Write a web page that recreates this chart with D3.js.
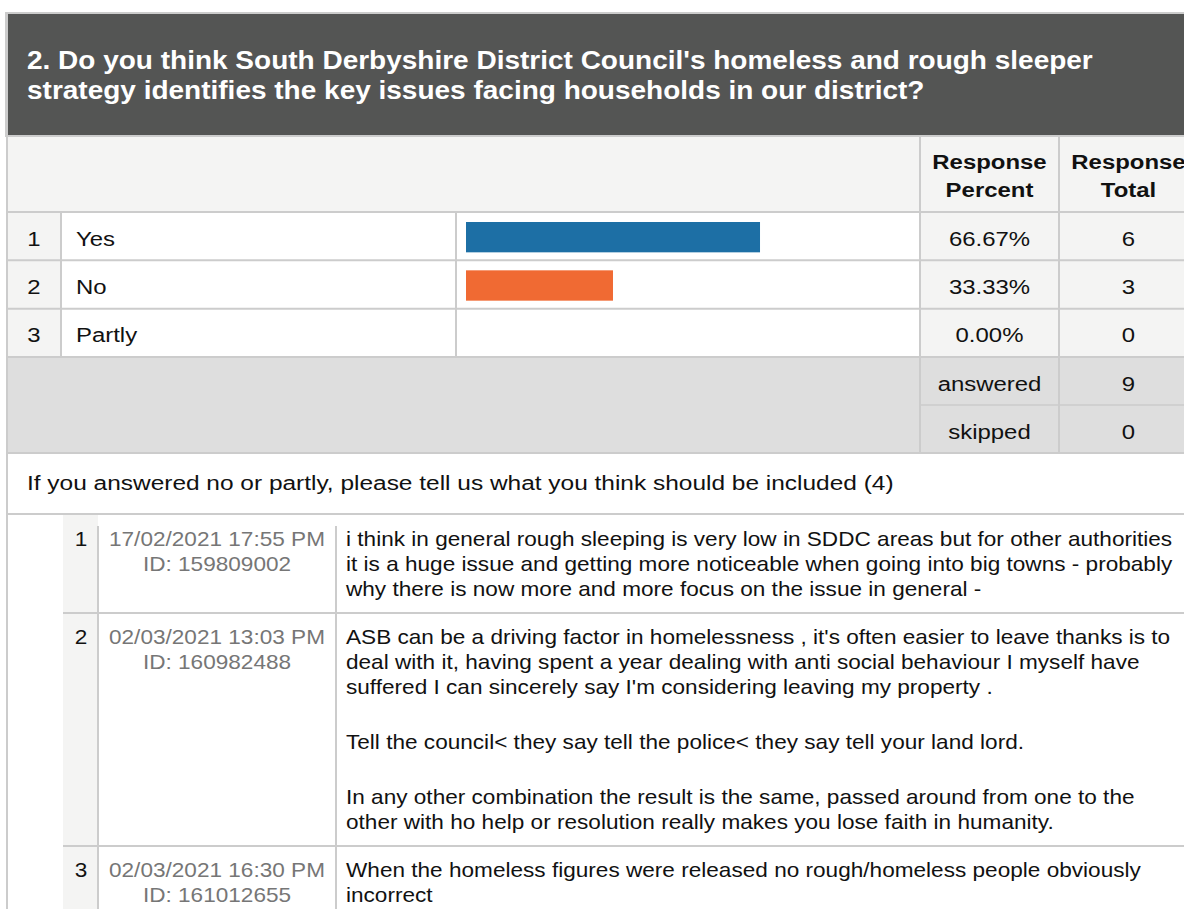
<!DOCTYPE html>
<html>
<head>
<meta charset="utf-8">
<script src="https://cdn.jsdelivr.net/npm/d3@7"></script>
<style>
  body { margin: 0; background: #fff; }
  svg { display: block; font-family: "Liberation Sans", Arial, sans-serif; }
</style>
</head>
<body>
<svg id="chart" width="1184" height="909"></svg>
<script>
// question + choices
var titleLines = [
  "2. Do you think South Derbyshire District Council's homeless and rough sleeper",
  "strategy identifies the key issues facing households in our district?"
];
var categories = ["Yes", "No", "Partly"];
var percents = [66.67, 33.33, 0.00];
var totals = [6, 3, 0];
var summaryLabels = ["answered", "skipped"];
var summaryValues = [9, 0];
var barColors = ["#1d6fa5", "#f06a33", "#9c9c9c"];

// open comments
var commentPrompt = "If you answered no or partly, please tell us what you think should be included (4)";
var commentDates = ["17/02/2021 17:55 PM", "02/03/2021 13:03 PM", "02/03/2021 16:30 PM"];
var commentIds = ["159809002", "160982488", "161012655"];
var commentTexts = [
  [["i think in general rough sleeping is very low in SDDC areas but for other authorities",
    "it is a huge issue and getting more noticeable when going into big towns - probably",
    "why there is now more and more focus on the issue in general -"]],
  [["ASB can be a driving factor in homelessness , it's often easier to leave thanks is to",
    "deal with it, having spent a year dealing with anti social behaviour I myself have",
    "suffered I can sincerely say I'm considering leaving my property ."],
   ["Tell the council< they say tell the police< they say tell your land lord."],
   ["In any other combination the result is the same, passed around from one to the",
    "other with ho help or resolution really makes you lose faith in humanity."]],
  [["When the homeless figures were released no rough/homeless people obviously",
    "incorrect"]]
];

var W = 1184, H = 909;
var line = "#cccccc", light = "#f4f4f3", grey = "#dedede";
var FS = 21, K = 1.14;     // text looks a bit wider than tall in the picture
var FC = 20, KC = 1.13;    // comment rows are a touch smaller
var svg = d3.select('#chart');

// put text at x with a horizontal stretch
function place(sel, x, k){
  k = k || K;
  return sel.attr('x', function(d, i){ return (typeof x === 'function' ? x(d, i) : x) / k })
            .attr('transform', 'scale(' + k + ',1)');
}

// column edges
var cols = [7, 61, 456, 920, 1059, 1198];

// header
svg.append('rect').attr('x', 6).attr('y', 13).attr('width', W).attr('height', 123)
  .attr('fill', '#545554').attr('stroke', line).attr('stroke-width', 2);
place(svg.selectAll('text.title').data(titleLines).enter().append('text')
  .attr('class', 'title')
  .attr('y', function(d, i){ return 69 + i * 30 })
  .attr('fill', '#fff').attr('font-weight', 'bold').attr('font-size', 25)
  .text(function(d){ return d }), 27, 1.12);

// column header row
svg.append('rect').attr('x', 7).attr('y', 136).attr('width', W).attr('height', 76).attr('fill', light);
[["Response", "Percent"], ["Response", "Total"]].forEach(function(lbl, c){
  var cx = (cols[3 + c] + cols[4 + c]) / 2;
  place(svg.selectAll(null).data(lbl).enter().append('text')
    .attr('y', function(d, i){ return 169 + i * 28 })
    .attr('text-anchor', 'middle').attr('font-weight', 'bold').attr('font-size', FS)
    .attr('fill', '#111').text(function(d){ return d }), cx);
});

// choice rows
var y = d3.scaleBand().domain(categories).range([212, 357]);
var x = d3.scaleLinear().domain([0, 100]).range([466, 907]);

var rows = svg.selectAll('g.choice').data(categories).enter().append('g')
  .attr('class', 'choice')
  .attr('transform', function(d){ return 'translate(0,' + y(d) + ')' });

rows.append('rect').attr('x', cols[0]).attr('width', cols[1] - cols[0]).attr('height', y.bandwidth()).attr('fill', light);
rows.append('rect').attr('x', cols[1]).attr('width', cols[3] - cols[1]).attr('height', y.bandwidth()).attr('fill', '#fff');
rows.append('rect').attr('x', cols[3]).attr('width', W - cols[3]).attr('height', y.bandwidth()).attr('fill', light);

rows.append('rect')
  .attr('x', x(0)).attr('y', 10)
  .attr('width', function(d, i){ return x(percents[i]) - x(0) })
  .attr('height', y.bandwidth() - 18)
  .attr('fill', function(d, i){ return barColors[i] });

var mid = y.bandwidth() / 2 + 2;
function cellText(g, cx, anchor, fmt){
  return place(g.append('text').attr('y', mid).attr('dy', '0.36em')
    .attr('text-anchor', anchor).attr('font-size', FS).attr('fill', '#111')
    .text(fmt), cx);
}
cellText(rows, (cols[0] + cols[1]) / 2, 'middle', function(d, i){ return i + 1 });
cellText(rows, 76, 'start', function(d){ return d });
cellText(rows, (cols[3] + cols[4]) / 2, 'middle', function(d, i){ return d3.format('.2f')(percents[i]) + '%' });
cellText(rows, (cols[4] + cols[5]) / 2, 'middle', function(d, i){ return totals[i] });

// summary block
var ys = d3.scaleBand().domain(summaryLabels).range([357, 453]);
svg.append('rect').attr('x', 6).attr('y', 357).attr('width', W).attr('height', 96).attr('fill', grey);
var srows = svg.selectAll('g.sum').data(summaryLabels).enter().append('g')
  .attr('class', 'sum')
  .attr('transform', function(d){ return 'translate(0,' + ys(d) + ')' });
cellText(srows, (cols[3] + cols[4]) / 2, 'middle', function(d){ return d });
cellText(srows, (cols[4] + cols[5]) / 2, 'middle', function(d, i){ return summaryValues[i] });

// grid lines of the choice table
var hl = [136, 212].concat(categories.map(function(d){ return y(d) + y.bandwidth() })).concat([453]);
svg.selectAll('line.h').data(hl).enter().append('line')
  .attr('x1', 6).attr('x2', W).attr('y1', function(d){ return d }).attr('y2', function(d){ return d })
  .attr('stroke', line).attr('stroke-width', 2);
svg.append('line').attr('x1', cols[3]).attr('x2', W).attr('y1', ys('skipped')).attr('y2', ys('skipped'))
  .attr('stroke', '#d0d0d0').attr('stroke-width', 2);
[cols[1], cols[2]].forEach(function(cx){
  svg.append('line').attr('x1', cx).attr('x2', cx).attr('y1', 212).attr('y2', 357).attr('stroke', line).attr('stroke-width', 2);
});
[cols[3], cols[4]].forEach(function(cx){
  svg.append('line').attr('x1', cx).attr('x2', cx).attr('y1', 136).attr('y2', 453).attr('stroke', line).attr('stroke-width', 2);
});

// comments section
place(svg.append('text').attr('y', 490).attr('font-size', FS).attr('fill', '#111').text(commentPrompt), 27, 1.165);
svg.append('line').attr('x1', 6).attr('x2', W).attr('y1', 514).attr('y2', 514).attr('stroke', line).attr('stroke-width', 2);
svg.append('line').attr('x1', 7).attr('x2', 7).attr('y1', 13).attr('y2', H).attr('stroke', line).attr('stroke-width', 2);

var lh = 25, pgap = 30, cursor = 515;
var rowTops = [];
commentTexts.forEach(function(paras){
  var n = d3.sum(paras, function(p){ return p.length });
  rowTops.push(cursor);
  cursor += 31 + (n - 1) * lh + (paras.length - 1) * pgap + 17;
});

svg.append('rect').attr('x', 63).attr('y', 515).attr('width', 35).attr('height', H - 515).attr('fill', light);
svg.append('line').attr('x1', 98).attr('x2', 98).attr('y1', 526).attr('y2', H).attr('stroke', line).attr('stroke-width', 2);
svg.append('line').attr('x1', 336).attr('x2', 336).attr('y1', 526).attr('y2', H).attr('stroke', line).attr('stroke-width', 2);

var crows = svg.selectAll('g.comment').data(commentTexts).enter().append('g')
  .attr('class', 'comment')
  .attr('transform', function(d, i){ return 'translate(0,' + rowTops[i] + ')' });

crows.filter(function(d, i){ return i > 0 }).append('line')
  .attr('x1', 63).attr('x2', W).attr('y1', 0).attr('y2', 0)
  .attr('stroke', line).attr('stroke-width', 2);

place(crows.append('text').attr('y', 31).attr('text-anchor', 'middle')
  .attr('font-size', FC).attr('fill', '#111').text(function(d, i){ return i + 1 }), 81, KC);
place(crows.append('text').attr('y', 31).attr('text-anchor', 'middle')
  .attr('font-size', FC).attr('fill', '#767676').text(function(d, i){ return commentDates[i] }), 217, KC);
place(crows.append('text').attr('y', 31 + lh).attr('text-anchor', 'middle')
  .attr('font-size', FC).attr('fill', '#767676').text(function(d, i){ return 'ID: ' + commentIds[i] }), 217, KC);

crows.each(function(paras){
  var g = d3.select(this), yy = 31;
  paras.forEach(function(p, pi){
    if (pi > 0) yy += pgap;
    p.forEach(function(t){
      place(g.append('text').attr('y', yy).attr('font-size', FC).attr('fill', '#111').text(t), 346, KC);
      yy += lh;
    });
  });
});
</script>
</body>
</html>
